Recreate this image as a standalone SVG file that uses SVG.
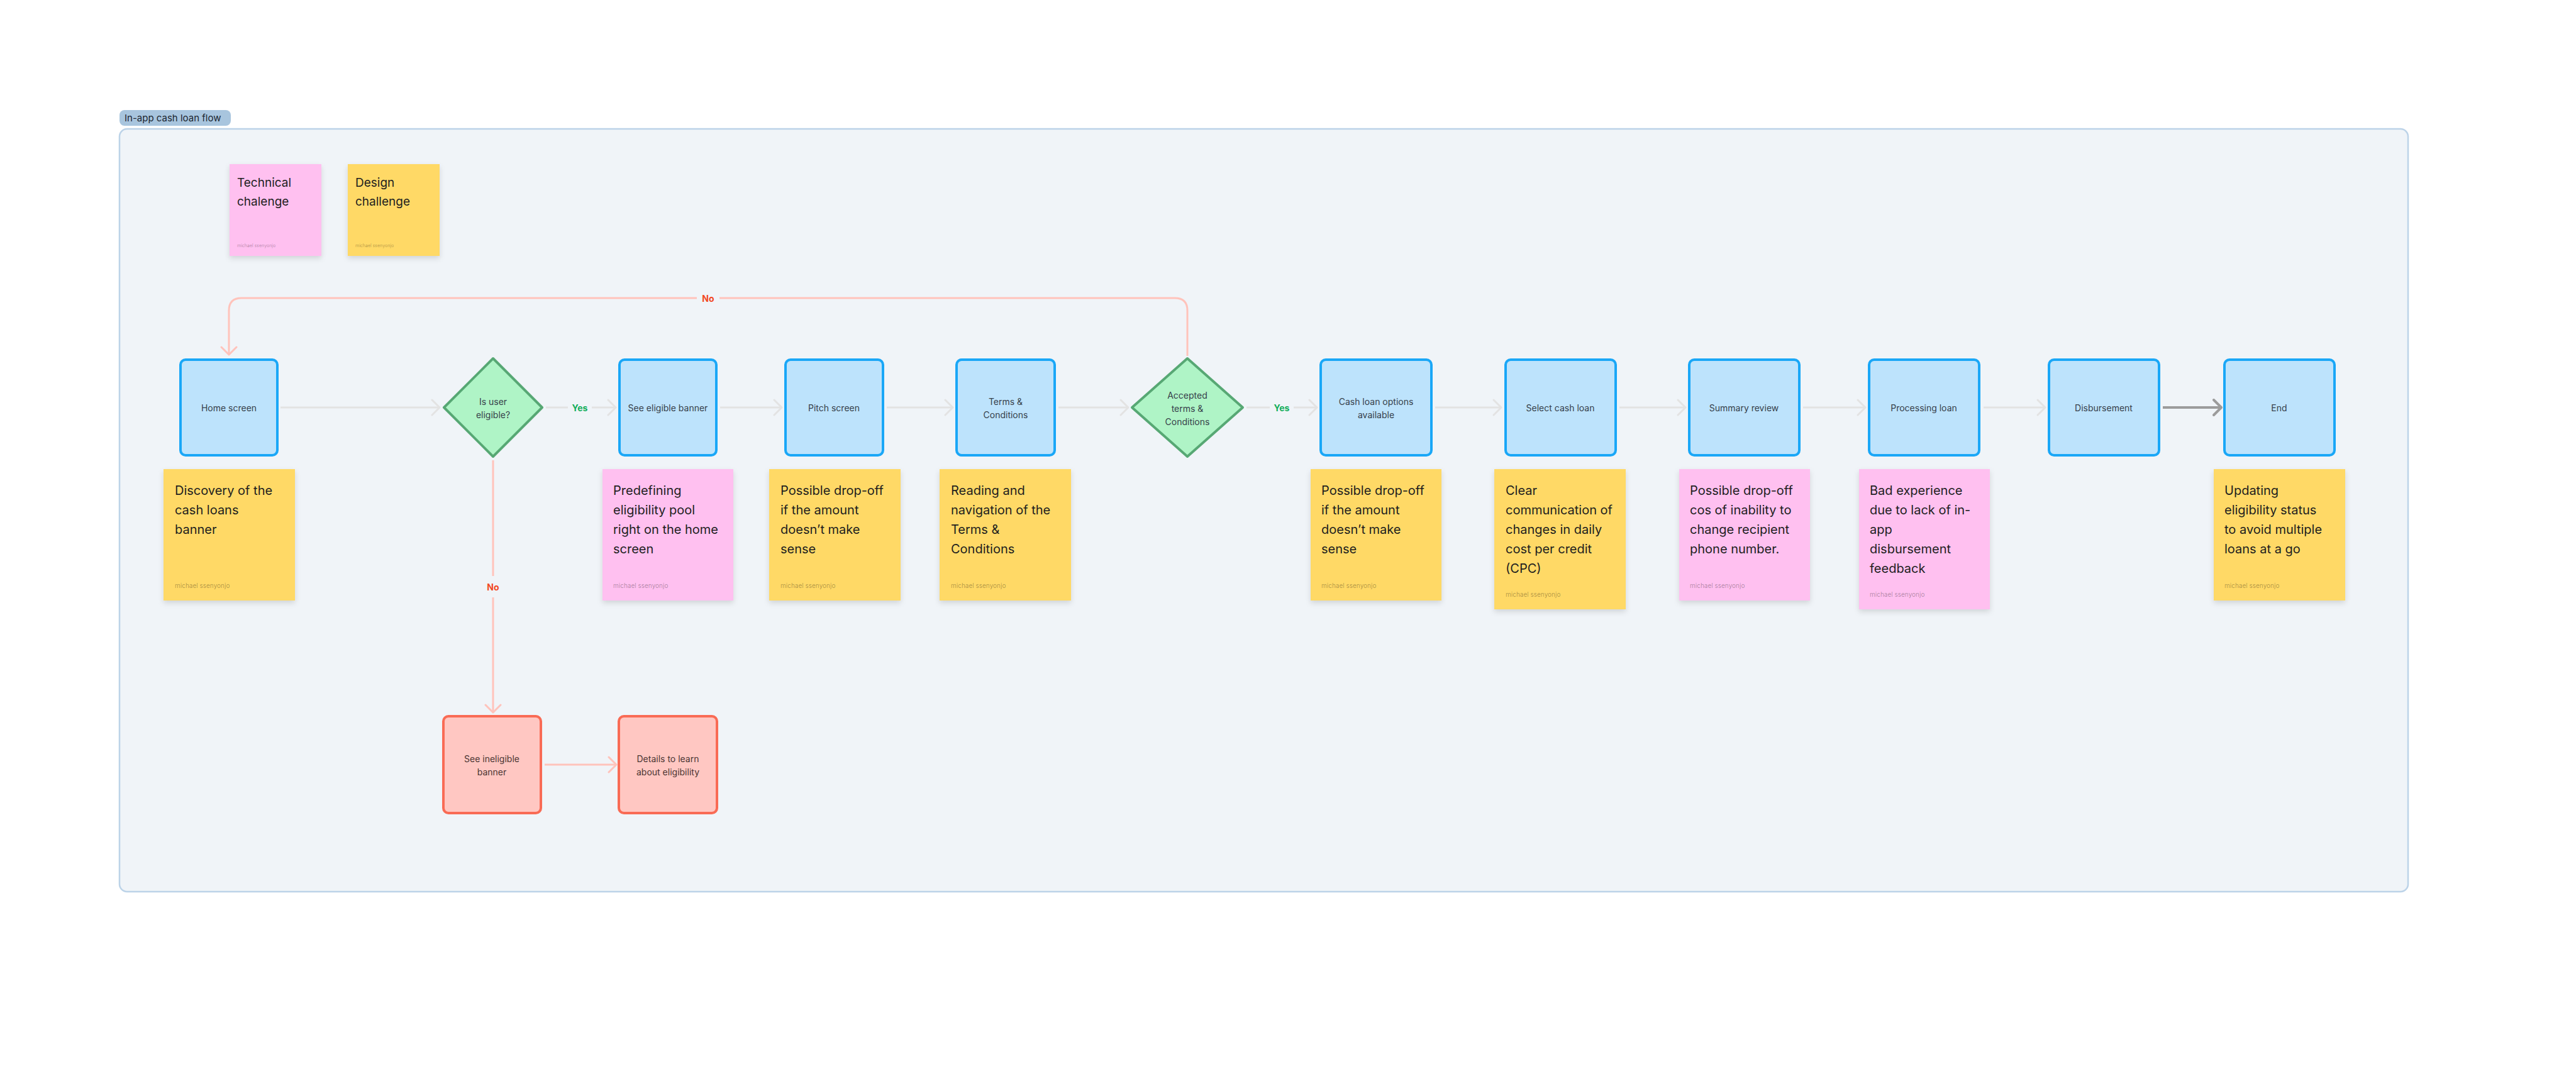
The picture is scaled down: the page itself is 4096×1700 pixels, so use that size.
<svg xmlns="http://www.w3.org/2000/svg" width="4096" height="1700" viewBox="0 0 4096 1700">
<style>
text{font-family:Inter,"Noto Sans","Liberation Sans",sans-serif}
.frame{fill:#f0f4f8;stroke:#bcd3e8;stroke-width:2.5}
.badge{fill:#a8c5de}
.badgeT{font-size:15px;fill:#1b2530}
.box{fill:#bde3fc;stroke:#1aa7f7;stroke-width:4}
.rbox{fill:#ffc7c2;stroke:#f96b55;stroke-width:4}
.dia{fill:#aff4c6;stroke:#57a874;stroke-width:4;stroke-linejoin:round}
.lbl{font-size:14px;fill:#36404a;text-anchor:middle;dominant-baseline:central}
.rlbl{font-size:14px;fill:#4a3533;text-anchor:middle;dominant-baseline:central}
.y{fill:#ffd966}
.p{fill:#ffc0f0}
.st{font-size:20px;fill:#1e1e1e}
.stS{font-size:19px;fill:#1e1e1e}
.au{font-size:10px;fill:#000;fill-opacity:.33}
.auS{font-size:7px;fill:#000;fill-opacity:.33}
.c{fill:none;stroke:#e3e3e3;stroke-width:3}
.cd{fill:none;stroke:#9c9c9c;stroke-width:4}
.cn{fill:none;stroke:#ffc3bb;stroke-width:3}
.yes{font-size:14px;font-weight:700;fill:#14ae5c;text-anchor:middle;dominant-baseline:central}
.no{font-size:14px;font-weight:700;fill:#f24822;text-anchor:middle;dominant-baseline:central}
.gap{fill:#f0f4f8}
</style>
<defs>
<filter id="sh" x="-10%" y="-10%" width="120%" height="125%">
<feDropShadow dx="0" dy="4" stdDeviation="4" flood-color="#000" flood-opacity="0.13"/>
</filter>
<marker id="ag" markerUnits="userSpaceOnUse" viewBox="0 0 16 28" refX="14" refY="14" markerWidth="16" markerHeight="28" orient="auto">
<path d="M2,2 L14,14 L2,26" fill="none" stroke="#e3e3e3" stroke-width="3" stroke-linecap="round" stroke-linejoin="round"/>
</marker>
<marker id="ad" markerUnits="userSpaceOnUse" viewBox="0 0 16 28" refX="14" refY="14" markerWidth="16" markerHeight="28" orient="auto">
<path d="M2,2 L14,14 L2,26" fill="none" stroke="#9c9c9c" stroke-width="4" stroke-linecap="round" stroke-linejoin="round"/>
</marker>
<marker id="ap" markerUnits="userSpaceOnUse" viewBox="0 0 16 28" refX="14" refY="14" markerWidth="16" markerHeight="28" orient="auto">
<path d="M2,2 L14,14 L2,26" fill="none" stroke="#ffc3bb" stroke-width="3" stroke-linecap="round" stroke-linejoin="round"/>
</marker>
</defs>
<rect width="4096" height="1700" fill="#ffffff"/>

<g id="section">
<rect class="frame" x="190" y="205" width="3639" height="1213" rx="12"/>
<rect class="badge" x="190" y="175" width="177" height="25" rx="8"/>
<text class="badgeT" x="198" y="193">In-app cash loan flow</text>
</g>

<g id="connectors">
<path class="c" d="M446,648 H699" marker-end="url(#ag)"/>
<path class="c" d="M868,648 H903 M941,648 H979" marker-end="url(#ag)"/>
<text class="yes" x="922" y="648">Yes</text>
<path class="c" d="M1145,648 H1243" marker-end="url(#ag)"/>
<path class="c" d="M1410,648 H1515" marker-end="url(#ag)"/>
<path class="c" d="M1683,648 H1794" marker-end="url(#ag)"/>
<path class="c" d="M1982,648 H2019 M2057,648 H2094" marker-end="url(#ag)"/>
<text class="yes" x="2038" y="648">Yes</text>
<path class="c" d="M2282,648 H2387" marker-end="url(#ag)"/>
<path class="c" d="M2575,648 H2680" marker-end="url(#ag)"/>
<path class="c" d="M2867,648 H2966" marker-end="url(#ag)"/>
<path class="c" d="M3154,648 H3252" marker-end="url(#ag)"/>
<path class="cd" d="M3439,648 H3532" marker-end="url(#ad)"/>
<path class="cn" d="M784,732 V916 M784,950 V1133" marker-end="url(#ap)"/>
<text class="no" x="784" y="933">No</text>
<path class="cn" d="M866,1216 H980" marker-end="url(#ap)"/>
<path class="cn" d="M1888,566 V494 Q1888,474 1868,474 H384 Q364,474 364,494 V564" marker-end="url(#ap)"/>
<rect class="gap" x="1108" y="464" width="36" height="20"/>
<text class="no" x="1126" y="474">No</text>
</g>

<g id="legend-technical">
<rect class="p" x="365" y="261" width="146" height="146" filter="url(#sh)"/>
<text class="stS" x="377" y="297">Technical<tspan x="377" dy="30">chalenge</tspan></text>
<text class="auS" x="377" y="393">michael ssenyonjo</text>
</g>
<g id="legend-design">
<rect class="y" x="553" y="261" width="146" height="146" filter="url(#sh)"/>
<text class="stS" x="565" y="297">Design<tspan x="565" dy="30">challenge</tspan></text>
<text class="auS" x="565" y="393">michael ssenyonjo</text>
</g>

<g id="home-screen">
<rect class="box" x="287" y="572" width="154" height="152" rx="8"/>
<text class="lbl" x="364" y="648">Home screen</text>
</g>
<g id="is-user-eligible">
<path class="dia" d="M784,570 L862,648 L784,726 L706,648 Z"/>
<text class="lbl" x="784" y="638">Is user</text>
<text class="lbl" x="784" y="659">eligible?</text>
</g>
<g id="see-eligible-banner">
<rect class="box" x="985" y="572" width="154" height="152" rx="8"/>
<text class="lbl" x="1062" y="648">See eligible banner</text>
</g>
<g id="pitch-screen">
<rect class="box" x="1249" y="572" width="155" height="152" rx="8"/>
<text class="lbl" x="1326" y="648">Pitch screen</text>
</g>
<g id="terms-conditions">
<rect class="box" x="1521" y="572" width="156" height="152" rx="8"/>
<text class="lbl" x="1599" y="638">Terms &amp;</text>
<text class="lbl" x="1599" y="659">Conditions</text>
</g>
<g id="accepted-terms">
<path class="dia" d="M1888,570 L1976,648 L1888,726 L1800,648 Z"/>
<text class="lbl" x="1888" y="628">Accepted</text>
<text class="lbl" x="1888" y="649">terms &amp;</text>
<text class="lbl" x="1888" y="670">Conditions</text>
</g>
<g id="cash-loan-options">
<rect class="box" x="2100" y="572" width="176" height="152" rx="8"/>
<text class="lbl" x="2188" y="638">Cash loan options</text>
<text class="lbl" x="2188" y="659">available</text>
</g>
<g id="select-cash-loan">
<rect class="box" x="2394" y="572" width="175" height="152" rx="8"/>
<text class="lbl" x="2481" y="648">Select cash loan</text>
</g>
<g id="summary-review">
<rect class="box" x="2686" y="572" width="175" height="152" rx="8"/>
<text class="lbl" x="2773" y="648">Summary review</text>
</g>
<g id="processing-loan">
<rect class="box" x="2972" y="572" width="175" height="152" rx="8"/>
<text class="lbl" x="3059" y="648">Processing loan</text>
</g>
<g id="disbursement">
<rect class="box" x="3258" y="572" width="175" height="152" rx="8"/>
<text class="lbl" x="3345" y="648">Disbursement</text>
</g>
<g id="end">
<rect class="box" x="3537" y="572" width="175" height="152" rx="8"/>
<text class="lbl" x="3624" y="648">End</text>
</g>
<g id="see-ineligible-banner">
<rect class="rbox" x="705" y="1139" width="155" height="154" rx="8"/>
<text class="rlbl" x="782" y="1206">See ineligible</text>
<text class="rlbl" x="782" y="1227">banner</text>
</g>
<g id="details-eligibility">
<rect class="rbox" x="984" y="1139" width="156" height="154" rx="8"/>
<text class="rlbl" x="1062" y="1206">Details to learn</text>
<text class="rlbl" x="1062" y="1227">about eligibility</text>
</g>

<g id="sticky-discovery">
<rect class="y" x="260" y="746" width="209" height="209" filter="url(#sh)"/>
<text class="st" x="278" y="787">Discovery of the<tspan x="278" dy="31">cash loans</tspan><tspan x="278" dy="31">banner</tspan></text>
<text class="au" x="278" y="935">michael ssenyonjo</text>
</g>
<g id="sticky-predefining">
<rect class="p" x="958" y="746" width="208" height="209" filter="url(#sh)"/>
<text class="st" x="975" y="787">Predefining<tspan x="975" dy="31">eligibility pool</tspan><tspan x="975" dy="31">right on the home</tspan><tspan x="975" dy="31">screen</tspan></text>
<text class="au" x="975" y="935">michael ssenyonjo</text>
</g>
<g id="sticky-pitch">
<rect class="y" x="1223" y="746" width="209" height="209" filter="url(#sh)"/>
<text class="st" x="1241" y="787">Possible drop-off<tspan x="1241" dy="31">if the amount</tspan><tspan x="1241" dy="31">doesn’t make</tspan><tspan x="1241" dy="31">sense</tspan></text>
<text class="au" x="1241" y="935">michael ssenyonjo</text>
</g>
<g id="sticky-terms">
<rect class="y" x="1494" y="746" width="209" height="209" filter="url(#sh)"/>
<text class="st" x="1512" y="787">Reading and<tspan x="1512" dy="31">navigation of the</tspan><tspan x="1512" dy="31">Terms &amp;</tspan><tspan x="1512" dy="31">Conditions</tspan></text>
<text class="au" x="1512" y="935">michael ssenyonjo</text>
</g>
<g id="sticky-cash-options">
<rect class="y" x="2084" y="746" width="208" height="209" filter="url(#sh)"/>
<text class="st" x="2101" y="787">Possible drop-off<tspan x="2101" dy="31">if the amount</tspan><tspan x="2101" dy="31">doesn’t make</tspan><tspan x="2101" dy="31">sense</tspan></text>
<text class="au" x="2101" y="935">michael ssenyonjo</text>
</g>
<g id="sticky-select">
<rect class="y" x="2376" y="746" width="209" height="223" filter="url(#sh)"/>
<text class="st" x="2394" y="787">Clear<tspan x="2394" dy="31">communication of</tspan><tspan x="2394" dy="31">changes in daily</tspan><tspan x="2394" dy="31">cost per credit</tspan><tspan x="2394" dy="31">(CPC)</tspan></text>
<text class="au" x="2394" y="949">michael ssenyonjo</text>
</g>
<g id="sticky-summary">
<rect class="p" x="2670" y="746" width="208" height="209" filter="url(#sh)"/>
<text class="st" x="2687" y="787">Possible drop-off<tspan x="2687" dy="31">cos of inability to</tspan><tspan x="2687" dy="31">change recipient</tspan><tspan x="2687" dy="31">phone number.</tspan></text>
<text class="au" x="2687" y="935">michael ssenyonjo</text>
</g>
<g id="sticky-processing">
<rect class="p" x="2956" y="746" width="208" height="223" filter="url(#sh)"/>
<text class="st" x="2973" y="787">Bad experience<tspan x="2973" dy="31">due to lack of in-</tspan><tspan x="2973" dy="31">app</tspan><tspan x="2973" dy="31">disbursement</tspan><tspan x="2973" dy="31">feedback</tspan></text>
<text class="au" x="2973" y="949">michael ssenyonjo</text>
</g>
<g id="sticky-end">
<rect class="y" x="3520" y="746" width="209" height="209" filter="url(#sh)"/>
<text class="st" x="3537" y="787">Updating<tspan x="3537" dy="31">eligibility status</tspan><tspan x="3537" dy="31">to avoid multiple</tspan><tspan x="3537" dy="31">loans at a go</tspan></text>
<text class="au" x="3537" y="935">michael ssenyonjo</text>
</g>
</svg>
